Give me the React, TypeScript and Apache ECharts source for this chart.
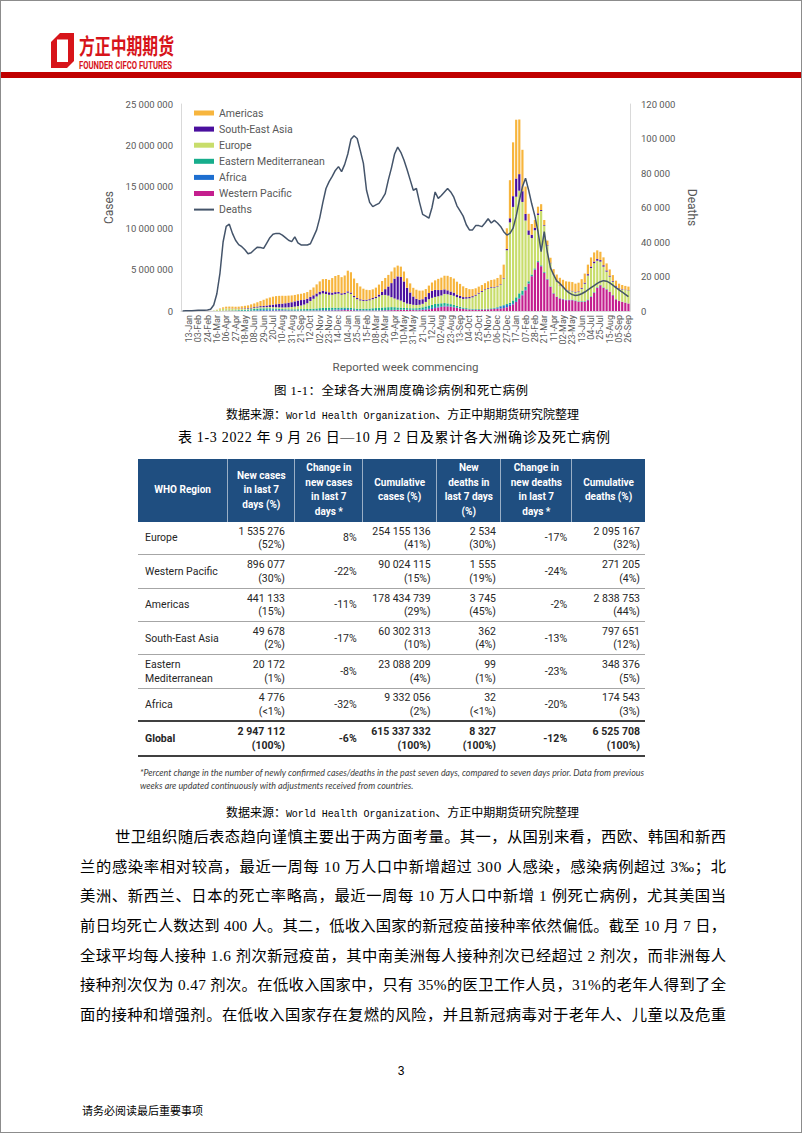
import React, { useEffect, useRef } from 'react';
import * as echarts from 'echarts';

// ---------- chart data ----------
const weeks = [
  '30-Dec',
  '06-Jan', '13-Jan', '20-Jan', '27-Jan', '03-Feb', '10-Feb', '17-Feb', '24-Feb', '02-Mar', '09-Mar',
  '16-Mar', '23-Mar', '30-Mar', '06-Apr', '13-Apr', '20-Apr', '27-Apr', '04-May', '11-May', '18-May',
  '25-May', '01-Jun', '08-Jun', '15-Jun', '22-Jun', '29-Jun', '06-Jul', '13-Jul', '20-Jul', '27-Jul',
  '03-Aug', '10-Aug', '17-Aug', '24-Aug', '31-Aug', '07-Sep', '14-Sep', '21-Sep', '28-Sep', '05-Oct',
  '12-Oct', '19-Oct', '26-Oct', '02-Nov', '09-Nov', '16-Nov', '23-Nov', '30-Nov', '07-Dec', '14-Dec',
  '21-Dec', '28-Dec',
  '04-Jan', '11-Jan', '18-Jan', '25-Jan', '01-Feb', '08-Feb', '15-Feb', '22-Feb', '01-Mar', '08-Mar',
  '15-Mar', '22-Mar', '29-Mar', '05-Apr', '12-Apr', '19-Apr', '26-Apr', '03-May', '10-May', '17-May',
  '24-May', '31-May', '07-Jun', '14-Jun', '21-Jun', '28-Jun', '05-Jul', '12-Jul', '19-Jul', '26-Jul',
  '02-Aug', '09-Aug', '16-Aug', '23-Aug', '30-Aug', '06-Sep', '13-Sep', '20-Sep', '27-Sep', '04-Oct',
  '11-Oct', '18-Oct', '25-Oct', '01-Nov', '08-Nov', '15-Nov', '22-Nov', '29-Nov', '06-Dec', '13-Dec',
  '20-Dec', '27-Dec',
  '03-Jan', '10-Jan', '17-Jan', '24-Jan', '31-Jan', '07-Feb', '14-Feb', '21-Feb', '28-Feb', '07-Mar',
  '14-Mar', '21-Mar', '28-Mar', '04-Apr', '11-Apr', '18-Apr', '25-Apr', '02-May', '09-May', '16-May',
  '23-May', '30-May', '06-Jun', '13-Jun', '20-Jun', '27-Jun', '04-Jul', '11-Jul', '18-Jul', '25-Jul',
  '01-Aug', '08-Aug', '15-Aug', '22-Aug', '29-Aug', '05-Sep', '12-Sep', '19-Sep', '26-Sep',
];

// weekly new cases, millions
const westernPacific = [
  0, 0, 0.001, 0.002, 0.01, 0.02, 0.025, 0.02, 0.01, 0.008,
  0.01, 0.015, 0.02, 0.025, 0.03, 0.025, 0.02, 0.015, 0.012, 0.01,
  0.01, 0.01, 0.012, 0.014, 0.016, 0.02, 0.025, 0.03, 0.04, 0.05,
  0.06, 0.06, 0.05, 0.045, 0.04, 0.035, 0.03, 0.03, 0.03, 0.03,
  0.03, 0.03, 0.035, 0.04, 0.045, 0.05, 0.055, 0.06, 0.065, 0.07,
  0.08, 0.09, 0.1, 0.11, 0.1, 0.08, 0.06, 0.05, 0.045, 0.045,
  0.045, 0.05, 0.055, 0.06, 0.07, 0.08, 0.09, 0.1, 0.11, 0.12,
  0.13, 0.13, 0.13, 0.12, 0.11, 0.1, 0.1, 0.12, 0.15, 0.2,
  0.25, 0.35, 0.42, 0.48, 0.55, 0.55, 0.5, 0.45, 0.38, 0.3,
  0.24, 0.2, 0.17, 0.15, 0.15, 0.15, 0.17, 0.18, 0.2, 0.22,
  0.25, 0.28, 0.3, 0.35, 0.45, 0.6, 0.8, 1.1, 1.5, 1.9,
  2.5, 3.3, 4.2, 5.0, 5.9, 5.4, 4.6, 3.8, 2.9, 2.1,
  1.7, 1.5, 1.4, 1.3, 1.3, 1.3, 1.2, 1.1, 1.1, 1.1,
  1.3, 1.7, 2.2, 2.8, 3.1, 2.8, 2.6, 2.3, 1.9, 1.4,
  1.2, 1.1, 1.0, 0.896,
];
const africa = [
  0, 0, 0, 0, 0, 0, 0, 0, 0, 0,
  0, 0.001, 0.002, 0.002, 0.003, 0.005, 0.008, 0.01, 0.015, 0.02,
  0.025, 0.03, 0.04, 0.05, 0.07, 0.09, 0.1, 0.11, 0.11, 0.1,
  0.09, 0.07, 0.06, 0.05, 0.04, 0.035, 0.03, 0.03, 0.03, 0.03,
  0.03, 0.035, 0.04, 0.045, 0.05, 0.055, 0.06, 0.07, 0.08, 0.1,
  0.12, 0.13, 0.14, 0.12, 0.1, 0.08, 0.06, 0.05, 0.04, 0.035,
  0.03, 0.03, 0.03, 0.03, 0.03, 0.03, 0.03, 0.03, 0.03, 0.03,
  0.03, 0.03, 0.03, 0.035, 0.04, 0.05, 0.07, 0.09, 0.12, 0.14,
  0.13, 0.12, 0.1, 0.09, 0.08, 0.07, 0.06, 0.05, 0.04, 0.035,
  0.03, 0.025, 0.02, 0.015, 0.015, 0.015, 0.015, 0.015, 0.015, 0.02,
  0.05, 0.12, 0.25, 0.3, 0.27, 0.2, 0.15, 0.1, 0.08, 0.07,
  0.05, 0.04, 0.035, 0.03, 0.03, 0.03, 0.03, 0.025, 0.02, 0.02,
  0.025, 0.03, 0.04, 0.05, 0.05, 0.045, 0.035, 0.03, 0.025, 0.02,
  0.02, 0.02, 0.015, 0.015, 0.012, 0.01, 0.01, 0.009, 0.008, 0.007,
  0.006, 0.006, 0.005, 0.005,
];
const easternMediterranean = [
  0, 0, 0, 0, 0, 0, 0, 0, 0.001, 0.003,
  0.006, 0.008, 0.01, 0.02, 0.03, 0.04, 0.05, 0.06, 0.08, 0.1,
  0.12, 0.14, 0.16, 0.18, 0.2, 0.21, 0.2, 0.19, 0.18, 0.16,
  0.14, 0.13, 0.12, 0.12, 0.12, 0.13, 0.14, 0.15, 0.16, 0.17,
  0.18, 0.19, 0.2, 0.22, 0.25, 0.27, 0.29, 0.28, 0.26, 0.22,
  0.2, 0.19, 0.18, 0.18, 0.17, 0.16, 0.16, 0.17, 0.18, 0.2,
  0.22, 0.25, 0.27, 0.3, 0.32, 0.33, 0.34, 0.34, 0.32, 0.28,
  0.25, 0.21, 0.19, 0.18, 0.18, 0.19, 0.21, 0.24, 0.28, 0.33,
  0.36, 0.38, 0.38, 0.36, 0.33, 0.3, 0.27, 0.24, 0.2, 0.17,
  0.14, 0.12, 0.1, 0.09, 0.08, 0.08, 0.08, 0.08, 0.08, 0.08,
  0.08, 0.07, 0.06, 0.07, 0.12, 0.2, 0.32, 0.45, 0.55, 0.5,
  0.38, 0.25, 0.17, 0.12, 0.1, 0.09, 0.08, 0.06, 0.05, 0.04,
  0.03, 0.03, 0.03, 0.03, 0.03, 0.03, 0.04, 0.05, 0.06, 0.07,
  0.07, 0.07, 0.06, 0.06, 0.05, 0.05, 0.04, 0.04, 0.03, 0.03,
  0.025, 0.022, 0.021, 0.02,
];
const europe = [
  0, 0, 0, 0, 0, 0, 0, 0, 0, 0.01,
  0.04, 0.1, 0.18, 0.22, 0.23, 0.22, 0.19, 0.16, 0.13, 0.12,
  0.11, 0.1, 0.1, 0.12, 0.13, 0.13, 0.13, 0.14, 0.15, 0.16,
  0.17, 0.18, 0.2, 0.22, 0.25, 0.28, 0.33, 0.38, 0.45, 0.55,
  0.7, 0.95, 1.2, 1.45, 1.65, 1.75, 1.65, 1.55, 1.55, 1.65,
  1.7, 1.55, 1.6, 1.8, 1.7, 1.35, 1.15, 1.0, 0.95, 0.95,
  1.0, 1.1, 1.2, 1.35, 1.5, 1.5, 1.4, 1.2, 1.05, 0.95,
  0.85, 0.7, 0.55, 0.5, 0.42, 0.38, 0.38, 0.42, 0.55, 0.75,
  0.85, 0.85, 0.88, 0.95, 1.1, 1.1, 1.1, 1.1, 1.05, 1.05,
  1.05, 1.15, 1.25, 1.4, 1.6, 1.85, 2.05, 2.25, 2.4, 2.5,
  2.45, 2.45, 2.55, 3.2, 6.5, 9.7, 11.3, 12.15, 12.4, 10.7,
  8.0, 5.6, 4.4, 4.6, 5.57, 6.56, 5.6, 4.0, 2.8, 2.2,
  1.8, 1.5, 1.3, 1.15, 1.05, 1.0, 0.95, 1.1, 1.5, 2.1,
  2.9, 3.4, 3.5, 3.2, 2.8, 2.5, 2.1, 1.8, 1.6, 1.5,
  1.45, 1.45, 1.5, 1.535,
];
const southEastAsia = [
  0, 0, 0, 0, 0, 0, 0, 0, 0, 0,
  0, 0.001, 0.002, 0.005, 0.01, 0.015, 0.02, 0.03, 0.04, 0.05,
  0.06, 0.07, 0.09, 0.1, 0.12, 0.14, 0.16, 0.19, 0.23, 0.3,
  0.36, 0.42, 0.46, 0.5, 0.55, 0.58, 0.63, 0.67, 0.65, 0.6,
  0.55, 0.5, 0.42, 0.36, 0.33, 0.32, 0.31, 0.3, 0.27, 0.24,
  0.2, 0.18, 0.17, 0.16, 0.16, 0.15, 0.14, 0.14, 0.13, 0.13,
  0.13, 0.14, 0.17, 0.25, 0.4, 0.7, 1.1, 1.7, 2.4, 2.8,
  2.85, 2.5, 1.9, 1.4, 1.0, 0.75, 0.6, 0.55, 0.6, 0.75,
  0.85, 0.85, 0.75, 0.65, 0.55, 0.48, 0.42, 0.38, 0.32, 0.27,
  0.22, 0.18, 0.15, 0.14, 0.12, 0.11, 0.1, 0.09, 0.09, 0.08,
  0.08, 0.07, 0.07, 0.08, 0.15, 0.5, 1.3, 2.2, 2.0, 1.3,
  0.8, 0.55, 0.4, 0.3, 0.2, 0.12, 0.08, 0.07, 0.06, 0.05,
  0.05, 0.05, 0.05, 0.05, 0.06, 0.07, 0.08, 0.09, 0.11, 0.13,
  0.16, 0.18, 0.2, 0.2, 0.19, 0.17, 0.15, 0.12, 0.1, 0.08,
  0.07, 0.06, 0.055, 0.05,
];
const americas = [
  0, 0, 0, 0, 0, 0, 0, 0, 0, 0.001,
  0.005, 0.03, 0.09, 0.17, 0.22, 0.23, 0.24, 0.24, 0.25, 0.27,
  0.3, 0.33, 0.4, 0.45, 0.52, 0.62, 0.74, 0.85, 0.92, 0.96,
  0.98, 0.97, 0.95, 0.9, 0.86, 0.82, 0.78, 0.76, 0.76, 0.78,
  0.8, 0.85, 0.95, 1.1, 1.25, 1.4, 1.5, 1.5, 1.75, 1.95,
  2.05, 1.95, 2.1, 2.5, 2.45, 2.1, 1.8, 1.55, 1.35, 1.2,
  1.1, 1.05, 1.1, 1.2, 1.3, 1.35, 1.4, 1.4, 1.35, 1.3,
  1.25, 1.2, 1.15, 1.1, 1.05, 1.1, 1.1, 1.05, 0.95, 0.9,
  1.0, 1.15, 1.35, 1.5, 1.65, 1.75, 1.75, 1.7, 1.55, 1.45,
  1.3, 1.1, 0.95, 0.85, 0.78, 0.74, 0.72, 0.75, 0.8, 0.85,
  0.9, 1.0, 1.15, 1.6, 2.5, 4.6, 6.5, 7.1, 6.6, 5.0,
  3.3, 2.0, 1.3, 0.95, 0.8, 0.7, 0.6, 0.55, 0.6, 0.65,
  0.8, 0.9, 0.95, 1.0, 1.05, 1.05, 1.0, 1.05, 1.05, 1.1,
  1.15, 1.1, 1.1, 1.05, 1.0, 0.95, 0.85, 0.75, 0.7, 0.65,
  0.55, 0.5, 0.45, 0.44,
];
// weekly deaths, thousands
const deaths = [
  0, 0.1, 0.1, 0.2, 0.3, 0.4, 0.5, 0.5, 0.6, 1.0,
  3.5, 10, 22, 40, 49, 50.3, 45, 41, 38.5, 37.3,
  35.5, 33.2, 33.8, 35.5, 37, 36.8, 36.3, 39.4, 42.5, 44.5,
  45, 45, 44, 42.5, 41, 40.2, 43, 39.5, 38.3, 38.3,
  38.3, 39, 43, 47, 54, 63, 71, 75, 78, 81.5,
  83.7, 80.8, 85, 91, 99.5, 101.6, 100, 93, 85.6, 70,
  63, 60.5, 61.5, 62.4, 65, 68, 76, 83, 91, 95,
  92, 87.5, 82, 76, 70, 71, 63, 56, 55, 53.8,
  60, 69, 65.3, 67, 69, 71, 69, 66, 61, 58,
  55, 50, 47, 47, 49.5, 49.5, 48.9, 51, 53.5, 51,
  52.5, 51, 49, 46, 44, 45, 48, 55, 64, 72,
  77, 70, 62, 55, 46, 34.4, 46, 34, 25, 21,
  17.5, 16, 14, 12, 10.5, 9.5, 9, 9.3, 10, 11,
  12.3, 13.5, 14.7, 16, 17, 17.6, 17.3, 16.3, 15, 13.5,
  12.3, 11, 9.6, 8.3,
];

const legendOrder = ['Americas', 'South-East Asia', 'Europe', 'Eastern Mediterranean', 'Africa', 'Western Pacific', 'Deaths'];

// ---------- table data ----------
const tableHeader = [
  ['WHO Region'],
  ['New cases', 'in last 7', 'days (%)'],
  ['Change in', 'new cases', 'in last 7', 'days *'],
  ['Cumulative', 'cases (%)'],
  ['New', 'deaths in', 'last 7 days', '(%)'],
  ['Change in', 'new deaths', 'in last 7', 'days *'],
  ['Cumulative', 'deaths (%)'],
];
const tableRows = [
  ['Europe', '1 535 276', '(52%)', '8%', '254 155 136', '(41%)', '2 534', '(30%)', '-17%', '2 095 167', '(32%)'],
  ['Western Pacific', '896 077', '(30%)', '-22%', '90 024 115', '(15%)', '1 555', '(19%)', '-24%', '271 205', '(4%)'],
  ['Americas', '441 133', '(15%)', '-11%', '178 434 739', '(29%)', '3 745', '(45%)', '-2%', '2 838 753', '(44%)'],
  ['South-East Asia', '49 678', '(2%)', '-17%', '60 302 313', '(10%)', '362', '(4%)', '-13%', '797 651', '(12%)'],
  ['Eastern|Mediterranean', '20 172', '(1%)', '-8%', '23 088 209', '(4%)', '99', '(1%)', '-23%', '348 376', '(5%)'],
  ['Africa', '4 776', '(<1%)', '-32%', '9 332 056', '(2%)', '32', '(<1%)', '-20%', '174 543', '(3%)'],
  ['Global', '2 947 112', '(100%)', '-6%', '615 337 332', '(100%)', '8 327', '(100%)', '-12%', '6 525 708', '(100%)'],
];
const colWidths = [89.7, 67.3, 67.7, 74, 64.3, 70.7, 73.3];

const paragraph = [
  '世卫组织随后表态趋向谨慎主要出于两方面考量。其一，从国别来看，西欧、韩国和新西',
  '兰的感染率相对较高，最近一周每 10 万人口中新增超过 300 人感染，感染病例超过 3‰；北',
  '美洲、新西兰、日本的死亡率略高，最近一周每 10 万人口中新增 1 例死亡病例，尤其美国当',
  '前日均死亡人数达到 400 人。其二，低收入国家的新冠疫苗接种率依然偏低。截至 10 月 7 日，',
  '全球平均每人接种 1.6 剂次新冠疫苗，其中南美洲每人接种剂次已经超过 2 剂次，而非洲每人',
  '接种剂次仅为 0.47 剂次。在低收入国家中，只有 35%的医卫工作人员，31%的老年人得到了全',
  '面的接种和增强剂。在低收入国家存在复燃的风险，并且新冠病毒对于老年人、儿童以及危重',
];

const FONT = 'Roboto, "Noto Sans", sans-serif';
const CJK = '"Liberation Serif", "Noto Sans CJK SC", serif';
const MONO = '"Liberation Mono", monospace';
const TXT = '#595959';

const spaced = (v: number) => String(Math.round(v)).replace(/\B(?=(\d{3})+(?!\d))/g, ' ');

function Chart() {
  const ref = useRef<HTMLDivElement>(null);
  useEffect(() => {
    if (!ref.current) return;
    const chart = echarts.init(ref.current, undefined, { renderer: 'svg' });
    const bars = [
      { name: 'Western Pacific', values: westernPacific, color: '#C41F8E' },
      { name: 'Africa', values: africa, color: '#1E6FD0' },
      { name: 'Eastern Mediterranean', values: easternMediterranean, color: '#17AD8C' },
      { name: 'Europe', values: europe, color: '#C8DD6B' },
      { name: 'South-East Asia', values: southEastAsia, color: '#4A0F9E' },
      { name: 'Americas', values: americas, color: '#F7B53D' },
    ];
    chart.setOption({
      animation: false,
      textStyle: { fontFamily: FONT },
      grid: { left: 91, top: 14, width: 449, height: 207 },
      legend: {
        orient: 'vertical',
        left: 98,
        top: 11,
        itemWidth: 20,
        itemHeight: 5,
        itemGap: 2.1,
        textStyle: { color: TXT, fontSize: 10.5, lineHeight: 14, fontFamily: FONT },
        data: legendOrder.map((n) =>
          n === 'Deaths' ? { name: n, itemStyle: { opacity: 0 } } : { name: n, icon: 'rect' }
        ),
      },
      xAxis: {
        type: 'category',
        data: weeks,
        axisLine: { lineStyle: { color: '#D9D9D9' } },
        axisTick: { show: false },
        axisLabel: {
          rotate: 90,
          interval: (i: number) => i % 3 === 2,
          showMinLabel: true,
          showMaxLabel: true,
          color: TXT,
          fontSize: 9,
          margin: 4,
          fontFamily: FONT,
        },
        name: 'Reported week commencing',
        nameLocation: 'middle',
        nameGap: 50,
        nameTextStyle: { color: TXT, fontSize: 11.5, fontFamily: FONT },
      },
      yAxis: [
        {
          type: 'value',
          min: 0,
          max: 25000000,
          interval: 5000000,
          axisLine: { show: true, lineStyle: { color: '#D9D9D9' } },
          axisTick: { show: false },
          splitLine: { show: false },
          axisLabel: { formatter: spaced, color: TXT, fontSize: 9.5, margin: 8, fontFamily: FONT },
          name: 'Cases',
          nameLocation: 'middle',
          nameGap: 58,
          nameTextStyle: { color: TXT, fontSize: 12, fontFamily: FONT },
        },
        {
          type: 'value',
          position: 'right',
          min: 0,
          max: 120000,
          interval: 20000,
          axisLine: { show: true, lineStyle: { color: '#D9D9D9' } },
          axisTick: { show: false },
          splitLine: { show: false },
          axisLabel: { formatter: spaced, color: TXT, fontSize: 9.5, margin: 11, fontFamily: FONT },
          name: 'Deaths',
          nameLocation: 'middle',
          nameRotate: -90,
          nameGap: 49,
          nameTextStyle: { color: TXT, fontSize: 12, fontFamily: FONT },
        },
      ],
      series: [
        ...bars.map((b) => ({
          name: b.name,
          type: 'bar',
          stack: 'cases',
          barCategoryGap: '30%',
          itemStyle: { color: b.color },
          data: b.values.map((v) => Math.round(v * 1e6)),
        })),
        {
          name: 'Deaths',
          type: 'line',
          yAxisIndex: 1,
          symbol: 'none',
          itemStyle: { color: '#44546A' },
          lineStyle: { color: '#44546A', width: 1.5 },
          data: deaths.map((v) => Math.round(v * 1000)),
          z: 5,
        },
      ],
    });
    return () => chart.dispose();
  }, []);
  return <div ref={ref} style={{ position: 'absolute', left: 90, top: 90, width: 630, height: 290 }} />;
}

// one line of document text, stretched to the measured width
function TextLine(props: { cy: number; x: number; w: number; size: number; children: React.ReactNode }) {
  return (
    <text
      x={props.x}
      y={props.cy + props.size * 0.38}
      textLength={props.w}
      lengthAdjust="spacing"
      fontSize={props.size}
      fontFamily={CJK}
      fill="#000"
    >
      {props.children}
    </text>
  );
}

function Table() {
  const cellBase: React.CSSProperties = {
    padding: 0,
    verticalAlign: 'middle',
    fontFamily: FONT,
    fontSize: 10.5,
    color: '#262626',
    lineHeight: '13.3px',
  };
  const padR = [0, 10, 6, 6, 5, 4.5, 5];
  return (
    <table
      style={{
        position: 'absolute',
        left: 138,
        top: 459,
        width: 507,
        borderCollapse: 'collapse',
        tableLayout: 'fixed',
      }}
    >
      <colgroup>
        {colWidths.map((w, i) => (
          <col key={i} style={{ width: w }} />
        ))}
      </colgroup>
      <tbody>
        <tr style={{ height: 62.7, background: '#1F4E80' }}>
          {tableHeader.map((lines, i) => (
            <td
              key={i}
              style={{
                ...cellBase,
                color: '#fff',
                fontWeight: 'bold',
                fontSize: 10,
                lineHeight: '14.5px',
                textAlign: 'center',
                borderLeft: i > 0 ? '1px solid rgba(255,255,255,0.55)' : 'none',
              }}
            >
              {lines.map((l, j) => (
                <div key={j}>{l}</div>
              ))}
            </td>
          ))}
        </tr>
        {tableRows.map((r, ri) => {
          const isGlobal = ri === tableRows.length - 1;
          const rowStyle: React.CSSProperties = {
            height: isGlobal ? 34.3 : 33.3,
            borderTop: isGlobal ? '2px solid #404040' : ri === 0 ? 'none' : '1px solid #A6A6A6',
            borderBottom: isGlobal ? '2px solid #404040' : 'none',
            fontWeight: isGlobal ? 'bold' : 'normal',
          };
          const two = (a: string, b: string, c: number) => (
            <td style={{ ...cellBase, textAlign: 'right', paddingRight: padR[c] }}>
              <div>{a}</div>
              <div>{b}</div>
            </td>
          );
          const one = (a: string, c: number) => (
            <td style={{ ...cellBase, textAlign: 'right', paddingRight: padR[c] }}>{a}</td>
          );
          return (
            <tr key={ri} style={rowStyle}>
              <td style={{ ...cellBase, paddingLeft: 7 }}>
                {r[0].split('|').map((l, j) => (
                  <div key={j}>{l}</div>
                ))}
              </td>
              {two(r[1], r[2], 1)}
              {one(r[3], 2)}
              {two(r[4], r[5], 3)}
              {two(r[6], r[7], 4)}
              {one(r[8], 5)}
              {two(r[9], r[10], 6)}
            </tr>
          );
        })}
      </tbody>
    </table>
  );
}

export default function App() {
  return (
    <div
      style={{
        position: 'absolute',
        left: 0,
        top: 0,
        width: 802,
        height: 1133,
        background: '#fff',
        overflow: 'hidden',
      }}
    >
      {/* header */}
      <svg style={{ position: 'absolute', left: 0, top: 0 }} width={802} height={90}>
        <polygon points="60,33 74,33 74,61 67,68 51,68 51,42" fill="#D7141A" />
        <rect x={57} y={39.5} width={11} height={22.5} fill="#fff" />
        <text
          x={79}
          y={53.5}
          textLength={95}
          lengthAdjust="spacingAndGlyphs"
          fontSize={22}
          fontWeight="bold"
          fill="#D7141A"
          fontFamily='"Noto Sans CJK SC", sans-serif'
        >
          方正中期期货
        </text>
        <text
          x={79}
          y={69}
          textLength={93}
          lengthAdjust="spacingAndGlyphs"
          fontSize={10.5}
          fontWeight="bold"
          fill="#D7141A"
          fontFamily="Roboto, sans-serif"
        >
          FOUNDER CIFCO FUTURES
        </text>
        <rect x={0} y={72} width={802} height={6} fill="#C00000" />
      </svg>

      <Chart />

      <Table />

      {/* document text */}
      <svg style={{ position: 'absolute', left: 0, top: 0, pointerEvents: 'none' }} width={802} height={1133}>
        <TextLine cy={390} x={274} w={254} size={12.5}>图 1-1：全球各大洲周度确诊病例和死亡病例</TextLine>
        <TextLine cy={414} x={226} w={353} size={12}>
          数据来源：<tspan fontFamily={MONO} fontSize={10}>World Health Organization</tspan>、方正中期期货研究院整理
        </TextLine>
        <TextLine cy={437} x={178} w={432} size={14}>
          表 1-3 2022 年 9 月 26 日—10 月 2 日及累计各大洲确诊及死亡病例
        </TextLine>
        <TextLine cy={812} x={226} w={353} size={12}>
          数据来源：<tspan fontFamily={MONO} fontSize={10}>World Health Organization</tspan>、方正中期期货研究院整理
        </TextLine>
        {paragraph.map((t, i) => (
          <TextLine key={i} cy={836 + i * 29.7} x={i === 0 ? 115 : 80} w={i === 0 ? 611 : 646} size={15.3}>
            {t}
          </TextLine>
        ))}
      </svg>

      <div
        style={{
          position: 'absolute',
          left: 140,
          top: 766,
          width: 540,
          fontFamily: 'Lato, "Open Sans", sans-serif',
          fontStyle: 'italic',
          fontSize: 8.9,
          lineHeight: '13px',
          color: '#404040',
          whiteSpace: 'nowrap',
        }}
      >
        <div>
          *Percent change in the number of newly confirmed cases/deaths in the past seven days, compared to seven days prior. Data from previous
        </div>
        <div>weeks are updated continuously with adjustments received from countries.</div>
      </div>

      <div
        style={{
          position: 'absolute',
          left: 0,
          width: 802,
          top: 1063,
          textAlign: 'center',
          fontFamily: '"Liberation Sans Narrow", "Liberation Sans", sans-serif',
          fontSize: 12,
          lineHeight: '16px',
        }}
      >
        3
      </div>
      <div
        style={{
          position: 'absolute',
          left: 82,
          top: 1102,
          fontFamily: '"Noto Sans CJK SC", sans-serif',
          fontSize: 11,
          lineHeight: '16px',
          color: '#000',
        }}
      >
        请务必阅读最后重要事项
      </div>

      <div
        style={{
          position: 'absolute',
          left: 0,
          top: 0,
          width: 802,
          height: 1133,
          border: '1px solid #8C8C8C',
          boxSizing: 'border-box',
          pointerEvents: 'none',
        }}
      />
    </div>
  );
}
